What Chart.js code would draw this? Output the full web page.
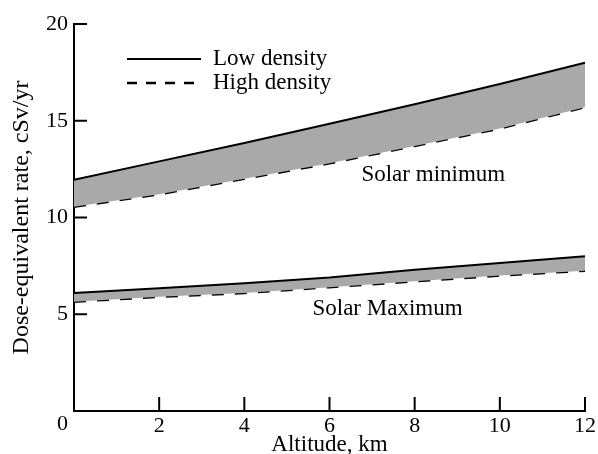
<!DOCTYPE html>
<html>
<head>
<meta charset="utf-8">
<script src="https://cdn.jsdelivr.net/npm/chart.js@4"></script>
<style>
  html, body { margin: 0; padding: 0; background: #fff; }
  #wrap { width: 598px; height: 454px; }
</style>
</head>
<body>
<div id="wrap"><canvas id="doseChart"></canvas></div>
<script>
// --- data ---
const altitudes = [0, 2, 4, 6, 8, 10, 12];
const minLowDensity = [11.95, 12.9, 13.85, 14.85, 15.85, 16.9, 18.0];
const minHighDensity = [10.55, 11.2, 12.0, 12.8, 13.7, 14.6, 15.7];
const maxLowDensity = [6.1, 6.35, 6.6, 6.9, 7.3, 7.65, 8.0];
const maxHighDensity = [5.65, 5.9, 6.1, 6.4, 6.7, 7.0, 7.25];
const xTicks = [0, 2, 4, 6, 8, 10, 12];
const yTicks = [0, 5, 10, 15, 20];
const legendLabels = ["Low density", "High density"];
const bandLabels = [
  { text: "Solar minimum", x: 6.75, y: 12.2 },
  { text: "Solar Maximum", x: 5.6, y: 5.25 },
];

const FONT = "'Liberation Serif', 'Times New Roman', serif";
const BAND_GREY = "#a9a9a9";

function pts(ys) {
  return altitudes.map((x, i) => ({ x: x, y: ys[i] }));
}

function lineSet(ys, dashed, fillTarget) {
  return {
    data: pts(ys),
    borderColor: "#000",
    borderWidth: dashed ? 2.5 : 2,
    borderDash: dashed ? [12, 11] : [],
    pointRadius: 0,
    tension: 0,
    fill: fillTarget,
    backgroundColor: BAND_GREY,
  };
}

// inward tick marks, corner "0", legend and band labels
const decorations = {
  id: "decorations",
  afterDraw(chart) {
    const { ctx, chartArea } = chart;
    const xs = chart.scales.x;
    const ys = chart.scales.y;
    ctx.save();
    ctx.strokeStyle = "#000";
    ctx.lineWidth = 2;
    xTicks.forEach((v) => {
      if (v === 0) return;
      const px = xs.getPixelForValue(v);
      ctx.beginPath();
      ctx.moveTo(px, chartArea.bottom);
      ctx.lineTo(px, chartArea.bottom - 14);
      ctx.stroke();
    });
    yTicks.forEach((v) => {
      if (v === 0) return;
      const py = ys.getPixelForValue(v);
      ctx.beginPath();
      ctx.moveTo(chartArea.left, py);
      ctx.lineTo(chartArea.left + 13, py);
      ctx.stroke();
    });

    ctx.fillStyle = "#000";
    ctx.font = "22px " + FONT;
    ctx.textAlign = "right";
    ctx.textBaseline = "top";
    ctx.fillText("0", chartArea.left - 6, chartArea.bottom + 2);

    // legend
    ctx.font = "23px " + FONT;
    ctx.textAlign = "left";
    ctx.textBaseline = "middle";
    const lx0 = chartArea.left + 53;
    const lx1 = chartArea.left + 127;
    const rows = [chartArea.top + 35, chartArea.top + 59];
    rows.forEach((ry, i) => {
      ctx.lineWidth = i === 0 ? 2 : 2.3;
      ctx.setLineDash(i === 0 ? [] : [10, 9]);
      ctx.beginPath();
      ctx.moveTo(lx0, ry);
      ctx.lineTo(lx1, ry);
      ctx.stroke();
      ctx.setLineDash([]);
      ctx.fillText(legendLabels[i], lx1 + 12, ry);
    });

    bandLabels.forEach((b) => {
      ctx.fillText(b.text, xs.getPixelForValue(b.x), ys.getPixelForValue(b.y));
    });
    ctx.restore();
  },
};

new Chart(document.getElementById("doseChart"), {
  type: "line",
  data: {
    datasets: [
      lineSet(minLowDensity, false, "+1"),
      lineSet(minHighDensity, true, false),
      lineSet(maxLowDensity, false, "+1"),
      lineSet(maxHighDensity, true, false),
    ],
  },
  options: {
    responsive: true,
    maintainAspectRatio: false,
    animation: false,
    layout: { padding: { top: 24, right: 13, left: 0, bottom: 0 } },
    plugins: { legend: { display: false }, tooltip: { enabled: false } },
    scales: {
      x: {
        type: "linear",
        min: 0,
        max: 12,
        afterFit: (s) => { s.height = 43; },
        afterBuildTicks: (s) => { s.ticks = xTicks.map((v) => ({ value: v })); },
        grid: { display: false, drawTicks: false, tickLength: 0 },
        border: { display: true, color: "#000", width: 2 },
        ticks: {
          color: "#000",
          padding: 2,
          maxRotation: 0,
          font: { family: FONT, size: 22 },
          callback: (v) => (v === 0 ? "" : v),
        },
        title: {
          display: true,
          text: "Altitude, km",
          color: "#000",
          font: { family: FONT, size: 23, lineHeight: 0.8 },
          padding: 0,
        },
      },
      y: {
        min: 0,
        max: 20,
        afterFit: (s) => { s.width = 74; },
        afterBuildTicks: (s) => { s.ticks = yTicks.map((v) => ({ value: v })); },
        grid: { display: false, drawTicks: false, tickLength: 0 },
        border: { display: true, color: "#000", width: 2 },
        ticks: {
          color: "#000",
          padding: 6,
          font: { family: FONT, size: 22 },
          callback: (v) => (v === 0 ? "" : v),
        },
        title: {
          display: true,
          text: "Dose-equivalent rate, cSv/yr",
          color: "#000",
          font: { family: FONT, size: 24 },
          padding: { top: 7, bottom: 0 },
        },
      },
    },
  },
  plugins: [decorations],
});
</script>
</body>
</html>
